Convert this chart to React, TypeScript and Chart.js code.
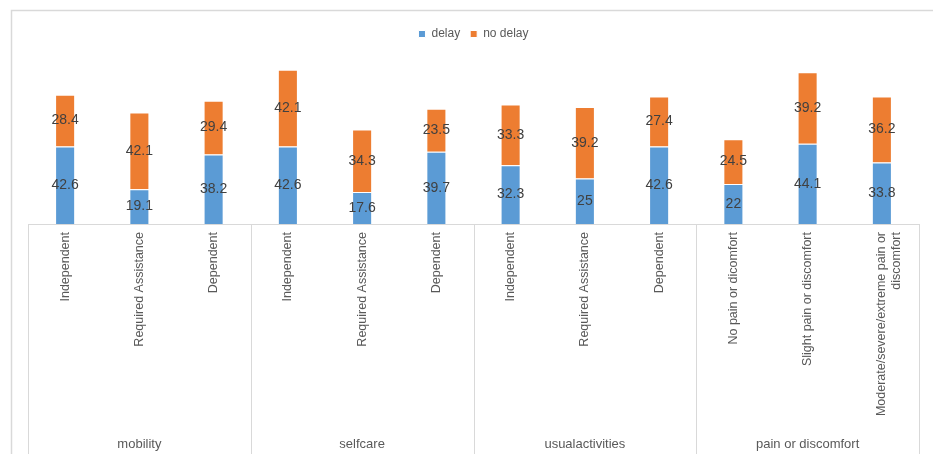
import React, { useEffect, useRef } from "react";
import { Chart, registerables } from "chart.js";

Chart.register(...registerables);

const categories: (string | string[])[] = [
  "Independent",
  "Required Assistance",
  "Dependent",
  "Independent",
  "Required Assistance",
  "Dependent",
  "Independent",
  "Required Assistance",
  "Dependent",
  "No pain or dicomfort",
  "Slight pain or discomfort",
  ["Moderate/severe/extreme pain or", "discomfort"],
];
const groups = ["mobility", "selfcare", "usualactivities", "pain or discomfort"];
const groupSizes = [3, 3, 3, 3];
const delay = [42.6, 19.1, 38.2, 42.6, 17.6, 39.7, 32.3, 25, 42.6, 22, 44.1, 33.8];
const noDelay = [28.4, 42.1, 29.4, 42.1, 34.3, 23.5, 33.3, 39.2, 27.4, 24.5, 39.2, 36.2];

const FONT = "'Liberation Sans', Arial, sans-serif";
const TEXT = "#595959";
const LINE = "#d9d9d9";

const decorPlugin = {
  id: "decor",
  beforeDraw(chart: any) {
    const ctx = chart.ctx;
    ctx.save();
    ctx.strokeStyle = LINE;
    ctx.lineWidth = 1.5;
    ctx.strokeRect(11.5, 10.5, chart.width + 20, chart.height + 20);
    ctx.restore();
  },
  afterDraw(chart: any) {
    const ctx = chart.ctx;
    const x = chart.scales.x;
    const area = chart.chartArea;
    ctx.save();
    ctx.strokeStyle = LINE;
    ctx.lineWidth = 1;
    let idx = 0;
    const bounds: number[] = [area.left];
    const centers: number[] = [];
    groupSizes.forEach((n) => {
      const first = idx;
      const last = idx + n - 1;
      const step = x.getPixelForValue(1) - x.getPixelForValue(0);
      const l = x.getPixelForValue(first) - step / 2;
      const r = x.getPixelForValue(last) + step / 2;
      centers.push((l + r) / 2);
      bounds.push(r);
      idx += n;
    });
    bounds.forEach((b) => {
      const px = Math.round(b) + 0.5;
      ctx.beginPath();
      ctx.moveTo(px, area.bottom);
      ctx.lineTo(px, chart.height);
      ctx.stroke();
    });
    ctx.fillStyle = TEXT;
    ctx.font = `13px ${FONT}`;
    ctx.textAlign = "center";
    ctx.textBaseline = "middle";
    groups.forEach((g, i) => {
      ctx.fillText(g, centers[i], 444);
    });
    ctx.restore();
  },
  afterDatasetsDraw(chart: any) {
    const ctx = chart.ctx;
    ctx.save();
    ctx.fillStyle = "#404040";
    ctx.font = `14px ${FONT}`;
    ctx.textAlign = "center";
    ctx.textBaseline = "middle";
    chart.data.datasets.forEach((ds: any, di: number) => {
      const meta = chart.getDatasetMeta(di);
      meta.data.forEach((el: any, i: number) => {
        const y = (el.y + el.base) / 2;
        ctx.fillText(String(ds.data[i]), el.x, y);
      });
    });
    ctx.restore();
  },
};

export default function App() {
  const ref = useRef<HTMLCanvasElement>(null);
  useEffect(() => {
    if (!ref.current) return;
    const chart = new Chart(ref.current, {
      type: "bar",
      data: {
        labels: categories,
        datasets: [
          {
            label: "delay",
            data: delay,
            backgroundColor: "#5B9BD5",
            borderColor: "#ffffff",
            borderWidth: 1,
            barPercentage: 0.27,
            categoryPercentage: 1,
          },
          {
            label: "no delay",
            data: noDelay,
            backgroundColor: "#ED7D31",
            borderColor: "#ffffff",
            borderWidth: 1,
            barPercentage: 0.27,
            categoryPercentage: 1,
          },
        ],
      },
      options: {
        animation: false,
        responsive: false,
        maintainAspectRatio: false,
        layout: { padding: { left: 28, right: 14, top: 18, bottom: 0 } },
        plugins: {
          legend: {
            position: "top",
            labels: {
              boxWidth: 7,
              boxHeight: 7,
              padding: 10,
              color: TEXT,
              font: { family: FONT, size: 12 },
            },
          },
          tooltip: { enabled: false },
        },
        scales: {
          x: {
            stacked: true,
            grid: { display: false },
            border: { display: true, color: LINE, width: 1 },
            ticks: {
              minRotation: 90,
              maxRotation: 90,
              autoSkip: false,
              padding: 0,
              color: TEXT,
              font: { family: FONT, size: 12.5 },
            },
            afterFit: (scale: any) => {
              scale.height = 230;
            },
          },
          y: {
            stacked: true,
            display: false,
            min: 0,
            max: 95.5,
          },
        },
      },
      plugins: [decorPlugin],
    });
    return () => chart.destroy();
  }, []);
  return (
    <div style={{ position: "absolute", left: 0, top: 0, width: 933, height: 454, background: "#fff" }}>
      <canvas ref={ref} width={933} height={454} style={{ display: "block" }} />
    </div>
  );
}
